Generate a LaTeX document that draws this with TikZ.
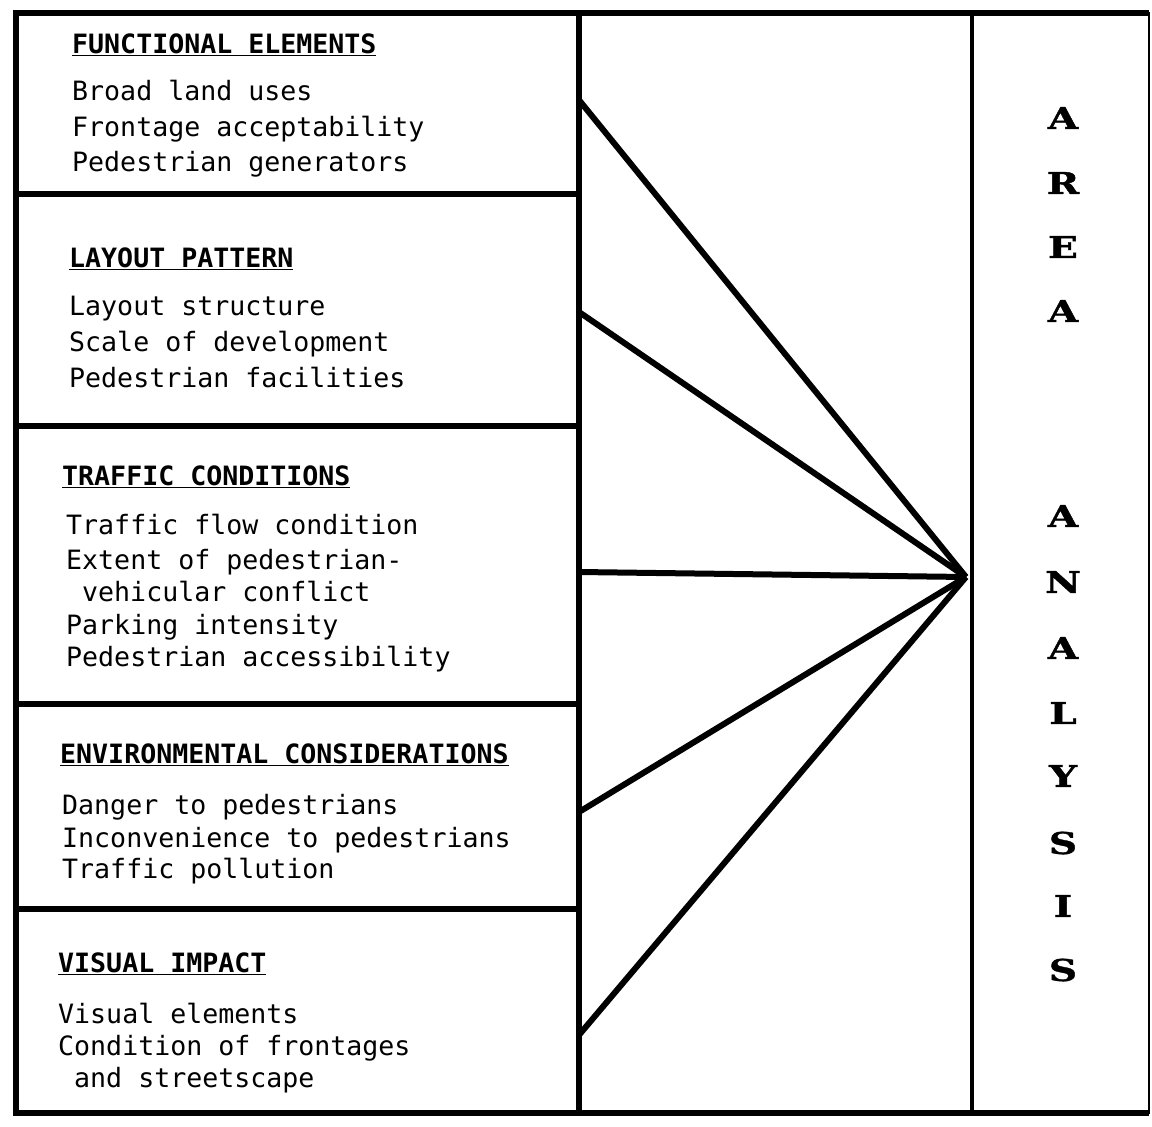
\documentclass[tikz,border=0pt]{standalone}
\usepackage{fontspec}
\setmonofont{DejaVu Sans Mono}
\newfontfamily\bigletters[FakeBold=1.2]{DejaVu Serif Bold}
\begin{document}
\begin{tikzpicture}[x=1pt,y=-1pt,
  col/.style={rectangle, draw, outer sep=0pt, inner sep=0pt},
  lbox/.style={rectangle, draw, line width=5.5pt, outer sep=0pt, inner sep=0pt, minimum width=563},
  link/.style={line width=6pt},
  body/.style={anchor=base west, inner sep=0pt, font=\ttfamily\fontsize{26.6}{30}\selectfont},
  head/.style={anchor=base west, inner sep=0pt, font=\ttfamily\bfseries\fontsize{26.6}{30}\selectfont},
  letter/.style={anchor=center, inner sep=0pt, font=\bigletters\fontsize{30}{32}\selectfont}
]
\useasboundingbox (0,0) rectangle (1152,1127);

% columns
\node[col, line width=3.5pt, minimum width=393, minimum height=1100] (mid) at (775.5,563) {};
\node[col, line width=2.5pt, minimum width=177, minimum height=1100] (side) at (1060.5,563) {};
\draw[line width=4.5pt] (mid.north east) -- (mid.south east);

% left boxes
\node[lbox, minimum height=181] (fe) at (297.5,103.5) {};
\node[lbox, minimum height=232] (lp) at (297.5,310) {};
\node[lbox, minimum height=278] (tc) at (297.5,565) {};
\node[lbox, minimum height=205] (ec) at (297.5,806.5) {};
\node[lbox, minimum height=204] (vi) at (297.5,1011) {};
\draw[line width=3.5pt] (fe.north west) -- (vi.south west);

% outer top and bottom
\draw[line width=6pt] (fe.north west) -- (side.north east);
\draw[line width=6pt] (vi.south west) -- (side.south east);

% texts: functional elements
\node[head] (feh) at (72,53) {\underline{FUNCTIONAL ELEMENTS}};
\node[body] (fe1) at (72,100) {Broad land uses};
\node[body] (fe2) at (72,136) {Frontage acceptability};
\node[body] (fe3) at (72,171) {Pedestrian generators};

% layout pattern
\node[head] (lph) at (69,267) {\underline{LAYOUT PATTERN}};
\node[body] (lp1) at (69,315) {Layout structure};
\node[body] (lp2) at (69,351) {Scale of development};
\node[body] (lp3) at (69,387) {Pedestrian facilities};

% traffic conditions
\node[head] (tch) at (62,485) {\underline{TRAFFIC CONDITIONS}};
\node[body] (tc1) at (66,534) {Traffic flow condition};
\node[body] (tc2) at (66,569) {Extent of pedestrian-};
\node[body] (tc3) at (82,601) {vehicular conflict};
\node[body] (tc4) at (66,634) {Parking intensity};
\node[body] (tc5) at (66,666) {Pedestrian accessibility};

% environmental considerations
\node[head] (ech) at (60,763) {\underline{ENVIRONMENTAL CONSIDERATIONS}};
\node[body] (ec1) at (62,814) {Danger to pedestrians};
\node[body] (ec2) at (62,847) {Inconvenience to pedestrians};
\node[body] (ec3) at (62,878) {Traffic pollution};

% visual impact
\node[head] (vih) at (58,972) {\underline{VISUAL IMPACT}};
\node[body] (vi1) at (58,1023) {Visual elements};
\node[body] (vi2) at (58,1055) {Condition of frontages};
\node[body] (vi3) at (74,1087) {and streetscape};

% AREA ANALYSIS
\foreach \ch/\yy in {A/118, R/183, E/247, A/311, A/516, N/582, A/648, L/713, Y/776, S/843, I/906, S/970}
  \node[letter] (let\yy) at (1063,\yy) {\scalebox{1.3}[1]{\ch}};

% connectors
\coordinate (hub) at (966,577);
\coordinate (feo) at (579,100);
\coordinate (lpo) at (579,312);
\coordinate (tco) at (579,572);
\coordinate (eco) at (579,812);
\coordinate (vio) at (579,1035);
\draw[link] (feo) -- (hub);
\draw[link] (lpo) -- (hub);
\draw[link] (tco) -- (hub);
\draw[link] (eco) -- (hub);
\draw[link] (vio) -- (hub);
\end{tikzpicture}
\end{document}
